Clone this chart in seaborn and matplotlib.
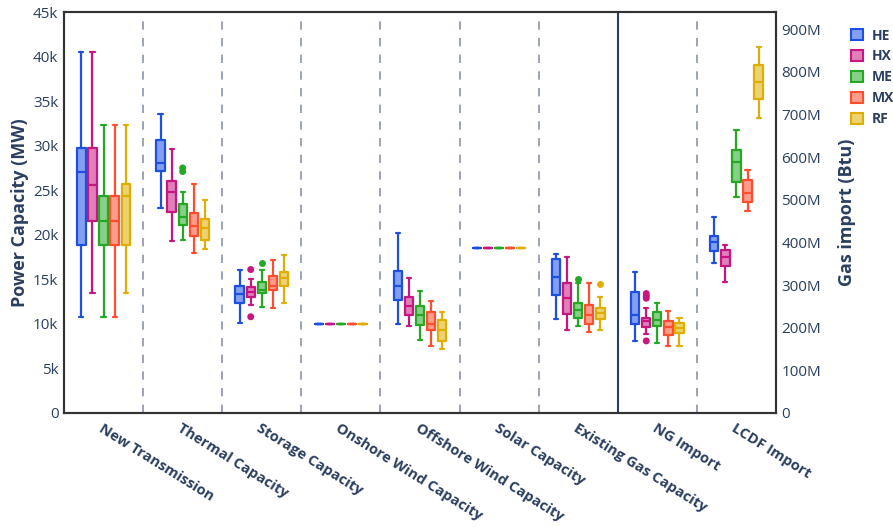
import numpy as np
import pandas as pd
import matplotlib
matplotlib.use("Agg")
import matplotlib.pyplot as plt
import seaborn as sns
from matplotlib.patches import Patch
from matplotlib.ticker import FuncFormatter, MultipleLocator

# ---------------- data ----------------
categories = ["New Transmission", "Thermal Capacity", "Storage Capacity",
              "Onshore Wind Capacity", "Offshore Wind Capacity", "Solar Capacity",
              "Existing Gas Capacity", "NG Import", "LCDF Import"]
right_categories = ["NG Import", "LCDF Import"]   # plotted on right axis (M Btu)
hues = ["HE", "HX", "ME", "MX", "RF"]

# (lower whisker, Q1, median, Q3, upper whisker) per category; k MW left, M Btu right
HE = [(10.8, 18.9, 27.0, 29.7, 40.5), (23.0, 27.2, 28.0, 30.6, 33.5),
      (10.1, 12.4, 13.4, 14.25, 16.1), (10.0, 10.0, 10.0, 10.0, 10.0),
      (10.0, 12.65, 14.25, 15.9, 20.2), (18.5, 18.5, 18.5, 18.5, 18.5),
      (10.6, 13.2, 15.3, 17.3, 17.85), (168, 208, 230, 283, 331),
      (352, 380, 401, 415, 459)]
HX = [(13.5, 21.5, 25.6, 29.7, 40.5), (19.3, 22.6, 24.8, 26.0, 29.6),
      (12.1, 13.05, 13.6, 14.1, 15.0), (10.0, 10.0, 10.0, 10.0, 10.0),
      (9.8, 11.0, 12.0, 13.0, 15.1), (18.5, 18.5, 18.5, 18.5, 18.5),
      (9.35, 11.1, 12.9, 14.6, 17.5), (185, 202, 216, 223, 247),
      (307, 345, 366, 383, 394)]
ME = [(10.8, 18.9, 21.6, 24.3, 32.3), (19.4, 21.1, 22.0, 23.5, 24.8),
      (11.9, 13.5, 13.8, 14.7, 16.1), (10.0, 10.0, 10.0, 10.0, 10.0),
      (8.2, 9.9, 11.0, 12.0, 13.7), (18.5, 18.5, 18.5, 18.5, 18.5),
      (9.75, 10.7, 11.6, 12.4, 14.55), (164, 205, 218, 236, 258),
      (506, 541, 588, 616, 663)]
MX = [(10.8, 18.9, 21.6, 24.3, 32.3), (18.0, 19.9, 21.0, 22.4, 25.7),
      (11.8, 13.8, 14.3, 15.4, 17.2), (10.0, 10.0, 10.0, 10.0, 10.0),
      (7.55, 9.3, 10.0, 11.3, 12.6), (18.5, 18.5, 18.5, 18.5, 18.5),
      (9.1, 10.0, 11.0, 12.1, 14.55), (157, 182, 202, 216, 239),
      (473, 495, 516, 546, 570)]
RF = [(13.5, 18.9, 24.3, 25.7, 32.3), (18.4, 19.4, 20.8, 21.8, 23.9),
      (12.3, 14.25, 15.1, 15.8, 17.7), (10.0, 10.0, 10.0, 10.0, 10.0),
      (7.15, 8.1, 9.35, 10.4, 11.3), (18.5, 18.5, 18.5, 18.5, 18.5),
      (9.35, 10.5, 11.25, 11.8, 13.05), (157, 187, 200, 212, 223),
      (691, 736, 776, 816, 858)]

outlier_cat = ["Thermal Capacity", "Thermal Capacity", "Storage Capacity", "Storage Capacity",
               "Storage Capacity", "Existing Gas Capacity", "Existing Gas Capacity",
               "NG Import", "NG Import", "NG Import", "NG Import"]
outlier_hue = ["ME", "ME", "HX", "HX", "ME", "ME", "RF", "HX", "HX", "HX", "HX"]
outlier_val = [27.5, 27.1, 16.1, 10.8, 16.8, 15.0, 14.45, 280, 274, 269, 169]

line_colors = {"HE": "#1d50e2", "HX": "#c7167f", "ME": "#25a925", "MX": "#ff4d2e", "RF": "#dfae00"}

# ---------------- build tables ----------------
stats = {"HE": HE, "HX": HX, "ME": ME, "MX": MX, "RF": RF}
rows = []
for h in hues:
    for c, s in zip(categories, stats[h]):
        for v in s:
            rows.append((c, h, v))
df = pd.DataFrame(rows, columns=["cat", "hue", "val"])
odf = pd.DataFrame({"cat": outlier_cat, "hue": outlier_hue, "val": outlier_val})


def blend(c, a=0.55):
    r, g, b = matplotlib.colors.to_rgb(c)
    return (1 - a + a * r, 1 - a + a * g, 1 - a + a * b)


fill_colors = {h: blend(c) for h, c in line_colors.items()}

sns.set_theme(style="white")
plt.rcParams["font.family"] = ["Open Sans", "DejaVu Sans"]
txt = "#2a3f5f"

fig = plt.figure(figsize=(8.93, 5.27), dpi=100)
ax = fig.add_axes([64 / 893, 1 - 413 / 527, (776 - 64) / 893, (413 - 12) / 527])
ax2 = ax.twinx()

WIDTH, GAP = 0.7, 0.25


def draw(axis, d, od):
    common = dict(x="cat", y="val", hue="hue", order=categories, hue_order=hues,
                  width=WIDTH, gap=GAP, whis=(0, 100), saturation=1, ax=axis, legend=False)
    sns.boxplot(data=d, fill=True, palette=fill_colors, linecolor="none", linewidth=0, **common)
    sns.boxplot(data=d, fill=False, palette=line_colors, linewidth=1.6, **common)
    n0 = len(axis.collections)
    sns.stripplot(data=od, x="cat", y="val", hue="hue", order=categories, hue_order=hues,
                  dodge=True, jitter=False, palette=line_colors, size=5, linewidth=0,
                  ax=axis, legend=False)
    # match stripplot dodge (0.8 total width) to boxplot dodge (0.7)
    for coll in axis.collections[n0:]:
        off = coll.get_offsets()
        if len(off):
            off = np.array(off)
            base = np.round(off[:, 0])
            off[:, 0] = base + (off[:, 0] - base) * WIDTH / 0.8
            coll.set_offsets(off)
    axis.set_xlabel("")
    axis.set_ylabel("")


left_df = df[~df["cat"].isin(right_categories)]
right_df = df[df["cat"].isin(right_categories)]
draw(ax, left_df, odf[~odf["cat"].isin(right_categories)])
draw(ax2, right_df, odf[odf["cat"].isin(right_categories)])

ax.set_xlim(-0.5, len(categories) - 0.5)
ax.set_ylim(0, 45)
ax2.set_ylim(0, 940)

# separators
for i in range(len(categories) - 1):
    if categories[i + 1] == right_categories[0]:
        ax.axvline(i + 0.5, color="#2a3f5f", lw=1.5, zorder=0.5)
    else:
        ax.axvline(i + 0.5, color="#8a94a8", lw=1.2, ls=(0, (5, 5)), zorder=0.5)

ax.yaxis.set_major_locator(MultipleLocator(5))
ax.yaxis.set_major_formatter(FuncFormatter(lambda v, p: "0" if v == 0 else f"{v:g}k"))
ax2.yaxis.set_major_locator(MultipleLocator(100))
ax2.yaxis.set_major_formatter(FuncFormatter(lambda v, p: "0" if v == 0 else f"{v:g}M"))

ax.tick_params(axis="y", length=0, pad=4, labelsize=11, labelcolor=txt)
ax2.tick_params(axis="y", length=0, pad=4, labelsize=11, labelcolor=txt)
ax.tick_params(axis="x", length=0, pad=6)
ax.set_xticks(range(len(categories)))
ax.set_xticklabels(categories, rotation=-32, ha="left", rotation_mode="anchor",
                   fontsize=10.5, fontweight="bold", color=txt)
ax2.tick_params(axis="x", length=0)

for a in (ax, ax2):
    for s in a.spines.values():
        s.set_color("#333333")
        s.set_linewidth(1.5)
        s.set_visible(True)

ax.set_ylabel("Power Capacity (MW)", fontsize=13, fontweight="bold", color=txt, labelpad=3)
ax2.set_ylabel("Gas import (Btu)", fontsize=13, fontweight="bold", color=txt, labelpad=12)

handles = [Patch(facecolor=fill_colors[h], edgecolor=line_colors[h], lw=1.5, label=h) for h in hues]
leg = fig.legend(handles=handles, loc="upper left", bbox_to_anchor=(838 / 893, 1 - 16 / 527),
                 frameon=False, handlelength=0.9, handleheight=0.9, handletextpad=0.6,
                 labelspacing=0.5, prop={"weight": "bold", "size": 10})
for t in leg.get_texts():
    t.set_color(txt)

fig.savefig("out.png", dpi=100)
